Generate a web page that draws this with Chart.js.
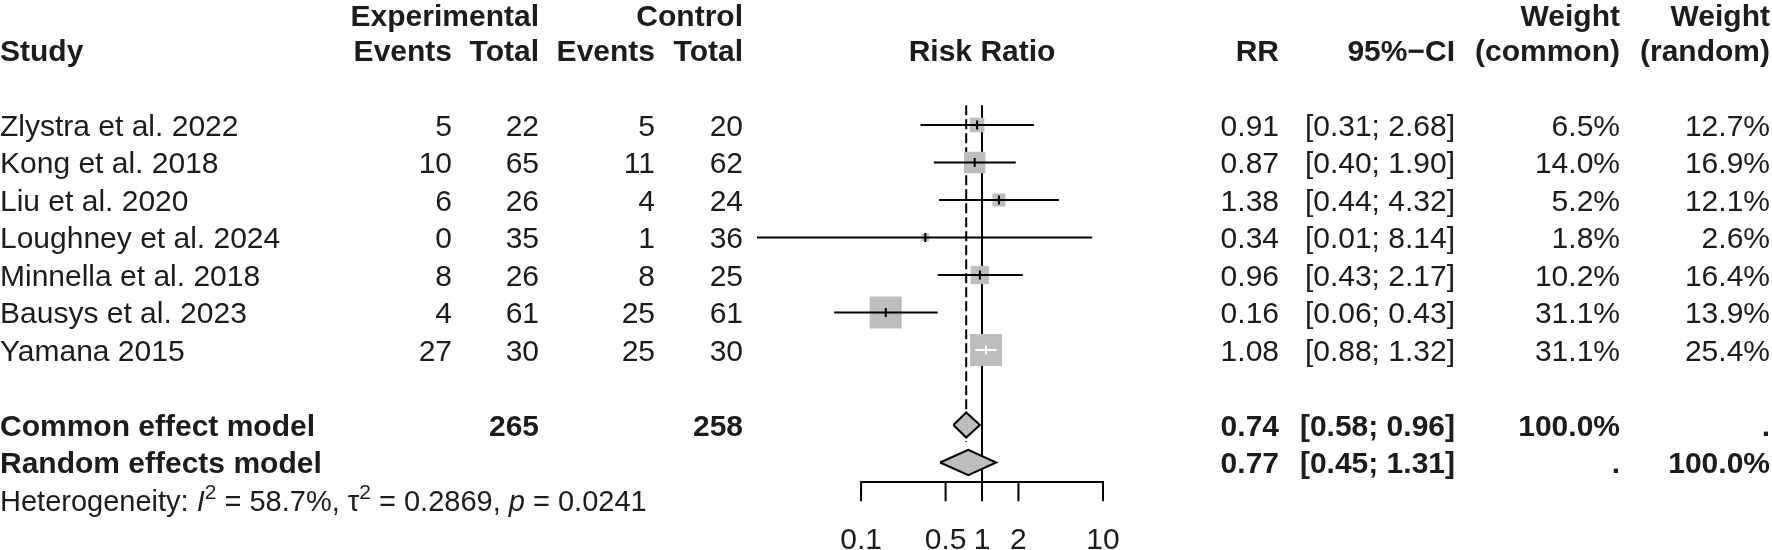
<!DOCTYPE html>
<html><head><meta charset="utf-8">
<script src="https://cdn.jsdelivr.net/npm/chart.js@4.4.1/dist/chart.umd.min.js"></script>
<style>html,body{margin:0;padding:0;background:#fff;overflow:hidden}</style>
</head><body>
<canvas id="c" width="1772" height="550" style="width:1772px;height:550px;display:block"></canvas>
<script>
// ---------- data ----------
const studies = ["Zlystra et al. 2022","Kong et al. 2018","Liu et al. 2020","Loughney et al. 2024","Minnella et al. 2018","Bausys et al. 2023","Yamana 2015"];
const expEvents = [5,10,6,0,8,4,27];
const expTotal = [22,65,26,35,26,61,30];
const ctrlEvents = [5,11,4,1,8,25,25];
const ctrlTotal = [20,62,24,36,25,61,30];
const rr = [0.91,0.87,1.38,0.34,0.96,0.16,1.08];
const ciLow = [0.31,0.40,0.44,0.01,0.43,0.06,0.88];
const ciHigh = [2.68,1.90,4.32,8.14,2.17,0.43,1.32];
const weightCommon = [6.5,14.0,5.2,1.8,10.2,31.1,31.1];
const weightRandom = [12.7,16.9,12.1,2.6,16.4,13.9,25.4];
const pooledLabels = ["Common effect model","Random effects model"];
const pooledRR = [0.74,0.77];
const pooledLow = [0.58,0.45];
const pooledHigh = [0.96,1.31];
const pooledWCommon = ["100.0%","."];
const pooledWRandom = [".","100.0%"];
const totalExp = 265;
const totalCtrl = 258;
const axisTicks = [0.1,0.5,1,2,10];
const hetI2 = "58.7%", hetTau2 = "0.2869", hetP = "0.0241";

// ---------- layout / style constants ----------
const FONT = '"Liberation Sans", Arial, Helvetica, sans-serif';
const FS = 30;
const FS_HET = 29;
const TXT = '#1c1c1c';
const ROW_POOLED = [8,9];
const ROW_HET = 10;
const ROW_HDR1 = -2.93, ROW_HDR2 = -2.0;
const ROW_LINE_TOP = -0.53, ROW_AXIS = 9.52, ROW_TICK_END = 10.03, ROW_TICKLAB = 11.01, ROW_DASH_END = 8.45;
const DIAMOND_HALF = 0.335;
const MAX_SQ = 32; // px side for largest weight
const XMIN = 0.0138, XMAX = 10;

const maxW = Math.max(...weightCommon);
const sqSide = i => MAX_SQ * Math.sqrt(weightCommon[i] / maxW);

function insideSquare(chart, i) {
  const xs = chart.scales.x;
  if (!xs) return false;
  const c = xs.getPixelForValue(rr[i]), h = sqSide(i) / 2;
  return xs.getPixelForValue(ciLow[i]) >= c - h && xs.getPixelForValue(ciHigh[i]) <= c + h;
}

const datasets = [];
// squares
datasets.push({
  type: 'scatter',
  data: rr.map((v, i) => ({x: v, y: i})),
  pointStyle: 'rect',
  pointRadius: ctx => sqSide(ctx.dataIndex) / Math.SQRT2,
  backgroundColor: '#bdbdbd',
  borderWidth: 0,
  order: 6
});
// CI lines
rr.forEach((v, i) => {
  datasets.push({
    type: 'line',
    data: [{x: ciLow[i], y: i}, {x: ciHigh[i], y: i}],
    borderColor: ctx => insideSquare(ctx.chart, i) ? '#ffffff' : '#000000',
    borderWidth: 2,
    pointRadius: 0,
    fill: false,
    order: 3
  });
});
// estimate ticks
datasets.push({
  type: 'scatter',
  data: rr.map((v, i) => ({x: v, y: i})),
  pointStyle: 'line',
  pointRotation: 90,
  pointRadius: 4.5,
  pointBorderWidth: 2,
  pointBorderColor: ctx => insideSquare(ctx.chart, ctx.dataIndex) ? '#ffffff' : '#000000',
  order: 1
});
// reference line at 1
datasets.push({
  type: 'line',
  data: [{x: 1, y: ROW_LINE_TOP}, {x: 1, y: ROW_AXIS}],
  borderColor: '#000', borderWidth: 2, pointRadius: 0, fill: false, order: 8
});
// common effect dashed line
datasets.push({
  type: 'line',
  data: [{x: pooledRR[0], y: ROW_LINE_TOP}, {x: pooledRR[0], y: ROW_DASH_END}],
  borderColor: '#000', borderWidth: 2, borderDash: [10, 4], pointRadius: 0, fill: false, order: 7
});
// diamonds
pooledRR.forEach((v, k) => {
  const r = ROW_POOLED[k];
  datasets.push({
    type: 'line',
    data: [{x: pooledLow[k], y: r}, {x: v, y: r - DIAMOND_HALF}, {x: pooledHigh[k], y: r}, {x: v, y: r + DIAMOND_HALF}, {x: pooledLow[k], y: r}],
    borderColor: '#000', borderWidth: 2, borderJoinStyle: 'miter',
    backgroundColor: '#bdbdbd', fill: 'shape', pointRadius: 0, tension: 0, order: 2
  });
});

// ---------- text + axis plugin ----------
const textPlugin = {
  id: 'forestText',
  beforeDraw(chart) {
    const ctx = chart.ctx;
    ctx.save();
    ctx.fillStyle = '#fff';
    ctx.fillRect(0, 0, chart.width, chart.height);
    ctx.restore();
  },
  afterDraw(chart) {
    const ctx = chart.ctx;
    const xs = chart.scales.x, ys = chart.scales.y;
    const Y = r => ys.getPixelForValue(r) + FS * 0.716 / 2;
    const put = (txt, x, r, align, bold) => {
      ctx.font = (bold ? 'bold ' : '') + FS + 'px ' + FONT;
      ctx.textAlign = align;
      ctx.fillText(txt, x, Y(r));
    };
    ctx.save();
    ctx.fillStyle = TXT;
    ctx.textBaseline = 'alphabetic';
    const C = {study: 0, ee: 452, et: 539, ce: 655, ct: 743, rr: 1279, ci: 1455, wc: 1620, wr: 1770};
    // headers
    put('Experimental', C.et, ROW_HDR1, 'right', true);
    put('Control', C.ct, ROW_HDR1, 'right', true);
    put('Weight', C.wc, ROW_HDR1, 'right', true);
    put('Weight', C.wr, ROW_HDR1, 'right', true);
    put('Study', C.study, ROW_HDR2, 'left', true);
    put('Events', C.ee, ROW_HDR2, 'right', true);
    put('Total', C.et, ROW_HDR2, 'right', true);
    put('Events', C.ce, ROW_HDR2, 'right', true);
    put('Total', C.ct, ROW_HDR2, 'right', true);
    const mid = (xs.getPixelForValue(axisTicks[0]) + xs.getPixelForValue(axisTicks[axisTicks.length - 1])) / 2;
    put('Risk Ratio', mid, ROW_HDR2, 'center', true);
    put('RR', C.rr, ROW_HDR2, 'right', true);
    put('95%\u2212CI', C.ci, ROW_HDR2, 'right', true);
    put('(common)', C.wc, ROW_HDR2, 'right', true);
    put('(random)', C.wr, ROW_HDR2, 'right', true);
    // study rows
    studies.forEach((s, i) => {
      put(s, C.study, i, 'left', false);
      put(String(expEvents[i]), C.ee, i, 'right', false);
      put(String(expTotal[i]), C.et, i, 'right', false);
      put(String(ctrlEvents[i]), C.ce, i, 'right', false);
      put(String(ctrlTotal[i]), C.ct, i, 'right', false);
      put(rr[i].toFixed(2), C.rr, i, 'right', false);
      put('[' + ciLow[i].toFixed(2) + '; ' + ciHigh[i].toFixed(2) + ']', C.ci, i, 'right', false);
      put(weightCommon[i].toFixed(1) + '%', C.wc, i, 'right', false);
      put(weightRandom[i].toFixed(1) + '%', C.wr, i, 'right', false);
    });
    // pooled rows
    pooledLabels.forEach((s, k) => {
      const r = ROW_POOLED[k];
      put(s, C.study, r, 'left', true);
      if (k === 0) {
        put(String(totalExp), C.et, r, 'right', true);
        put(String(totalCtrl), C.ct, r, 'right', true);
      }
      put(pooledRR[k].toFixed(2), C.rr, r, 'right', true);
      put('[' + pooledLow[k].toFixed(2) + '; ' + pooledHigh[k].toFixed(2) + ']', C.ci, r, 'right', true);
      put(pooledWCommon[k], C.wc, r, 'right', true);
      put(pooledWRandom[k], C.wr, r, 'right', true);
    });
    // heterogeneity
    const parts = [
      ['Heterogeneity: ', 'n'], ['I', 'i'], ['2', 's'], [' = ' + hetI2 + ', ', 'n'],
      ['\u03c4', 'n'], ['2', 's'], [' = ' + hetTau2 + ', ', 'n'], ['p', 'i'], [' = ' + hetP, 'n']
    ];
    let hx = 0;
    const hy = Y(ROW_HET);
    ctx.textAlign = 'left';
    parts.forEach(([t, k]) => {
      let yy = hy;
      if (k === 'n') ctx.font = FS_HET + 'px ' + FONT;
      else if (k === 'i') ctx.font = 'italic ' + FS_HET + 'px ' + FONT;
      else { ctx.font = Math.round(FS_HET * 0.72) + 'px ' + FONT; yy = hy - 12; }
      ctx.fillText(t, hx, yy);
      hx += ctx.measureText(t).width;
    });
    // axis
    const ay = ys.getPixelForValue(ROW_AXIS), ty = ys.getPixelForValue(ROW_TICK_END);
    ctx.strokeStyle = '#000';
    ctx.lineWidth = 2;
    ctx.beginPath();
    ctx.moveTo(xs.getPixelForValue(axisTicks[0]) - 1, ay);
    ctx.lineTo(xs.getPixelForValue(axisTicks[axisTicks.length - 1]) + 1, ay);
    axisTicks.forEach(t => {
      const px = xs.getPixelForValue(t);
      ctx.moveTo(px, ay);
      ctx.lineTo(px, ty);
    });
    ctx.stroke();
    ctx.font = FS + 'px ' + FONT;
    ctx.textAlign = 'center';
    axisTicks.forEach(t => {
      ctx.fillText(String(t), xs.getPixelForValue(t), Y(ROW_TICKLAB));
    });
    ctx.restore();
  }
};

new Chart(document.getElementById('c'), {
  type: 'scatter',
  data: {datasets},
  options: {
    responsive: false,
    devicePixelRatio: 1,
    animation: false,
    events: [],
    layout: {autoPadding: false, padding: {left: 757, right: 1772 - 1103, top: 0, bottom: 0}},
    plugins: {legend: {display: false}, tooltip: {enabled: false}},
    scales: {
      x: {type: 'logarithmic', min: XMIN, max: XMAX, bounds: 'data', display: false},
      y: {type: 'linear', min: -10 / 3, max: 34 / 3, reverse: true, display: false}
    }
  },
  plugins: [textPlugin]
});
</script>
</body></html>
